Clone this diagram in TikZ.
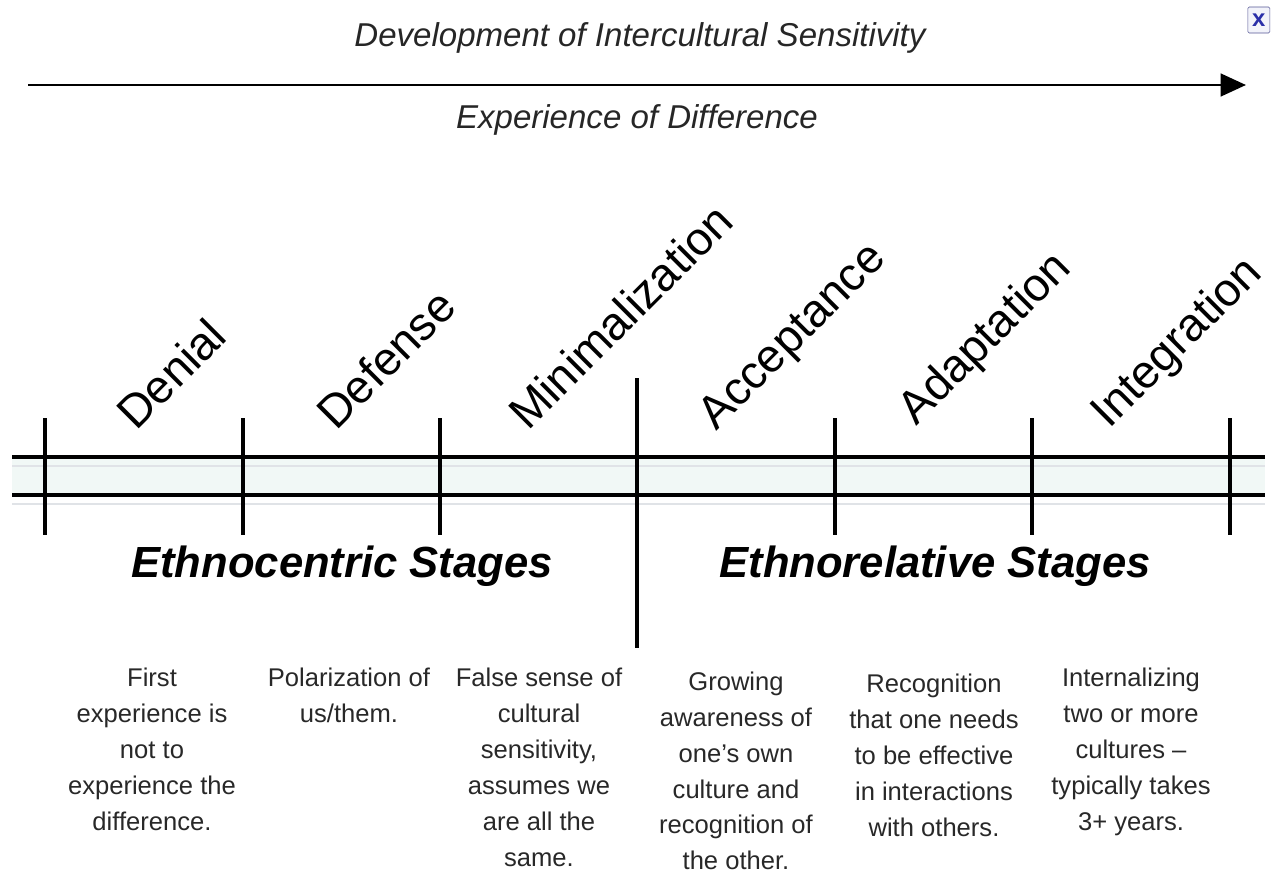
\documentclass[tikz,border=0pt]{standalone}
\usepackage{fontspec}
\setmainfont{Liberation Sans}
\usetikzlibrary{arrows.meta}

\definecolor{bandtint}{HTML}{F1F8F6}
\definecolor{shadowgray}{HTML}{E0E3E7}
\definecolor{desctext}{HTML}{282828}
\definecolor{iconblue}{HTML}{2A2FA8}

\begin{document}
\begin{tikzpicture}[
  heading/.style={font=\fontsize{23.5}{28}\selectfont\itshape, text=black!85},
  stage/.style={rotate=45, anchor=base west, inner sep=0pt, font=\fontsize{33}{38}\selectfont},
  group/.style={anchor=base, inner sep=0pt, font=\fontsize{31}{37}\selectfont\bfseries\itshape},
  desc/.style={align=center, anchor=north, inner sep=0pt, text=desctext, font=\fontsize{18.2}{25.6}\selectfont},
  rule/.style={line width=2.3pt},
]
\useasboundingbox (0,0) rectangle (32,-21.725);

% top heading and arrow
\node[heading] (title) at (16,-0.95) {Development of Intercultural Sensitivity};
\coordinate (tail) at (0.7,-2.125);
\coordinate (head) at (31.15,-2.125);
\draw[line width=2.1pt, -{Triangle[length=18pt,width=16pt]}] (tail) -- (head);
\node[heading] (experience) at (15.925,-3.0) {Experience of Difference};

\node[draw=iconblue!50!gray, fill=iconblue!6, rounded corners=1pt, text=iconblue,
      minimum width=0.55cm, minimum height=0.65cm, inner sep=0pt,
      font=\fontsize{17}{17}\selectfont\bfseries] (closebox) at (31.47,-0.5) {x};


% the double line with its band
\fill[bandtint] (0.3,-11.425) rectangle (31.625,-12.375);
\draw[shadowgray, line width=1.5pt] (0.3,-11.65) -- (31.625,-11.65);
\draw[shadowgray, line width=1.5pt] (0.3,-12.6) -- (31.625,-12.6);
\draw[rule] (0.3,-11.425) -- (31.625,-11.425);
\draw[rule] (0.3,-12.375) -- (31.625,-12.375);

\foreach \x in {1.125,6.075,11.0,20.875,25.8,30.75}
  \draw[rule] (\x,-10.45) -- (\x,-13.375);
\draw[rule] (15.925,-9.45) -- (15.925,-16.2);


% stage names
\node[stage] (denial) at (3.4,-10.8) {Denial};
\node[stage] (defense) at (8.4,-10.8) {Defense};
\node[stage] (minimal) at (13.2,-10.8) {Minimalization};
\node[stage] (accept) at (17.9,-10.8) {Acceptance};
\node[stage] (adapt) at (22.9,-10.675) {Adaptation};
\node[stage] (integ) at (27.72,-10.75) {Integration};

\node[group] (ethnocentric) at (8.55,-14.425) {Ethnocentric Stages};
\node[group] (ethnorelative) at (23.375,-14.425) {Ethnorelative Stages};


% what each stage means
\node[desc] (d1) at (3.8,-16.7) {First\\experience is\\not to\\experience the\\difference.};
\node[desc] (d2) at (8.725,-16.7) {Polarization of\\us/them.};
\node[desc] (d3) at (13.475,-16.7) {False sense of\\cultural\\sensitivity,\\assumes we\\are all the\\same.};
\node[desc] (d4) at (18.4,-16.78) {Growing\\awareness of\\one’s own\\culture and\\recognition of\\the other.};
\node[desc] (d5) at (23.35,-16.85) {Recognition\\that one needs\\to be effective\\in interactions\\with others.};
\node[desc] (d6) at (28.275,-16.7) {Internalizing\\two or more\\cultures –\\typically takes\\3+ years.};
\end{tikzpicture}
\end{document}
